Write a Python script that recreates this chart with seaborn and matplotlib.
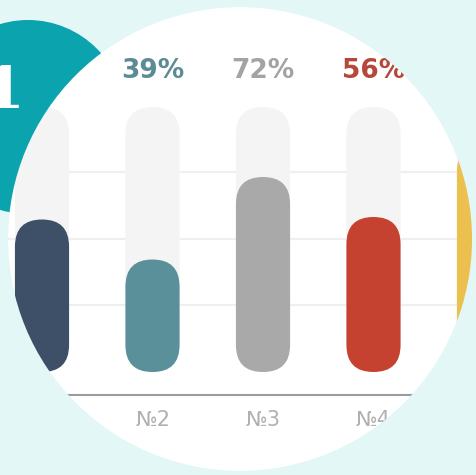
import pandas as pd
import matplotlib
matplotlib.use('Agg')
import matplotlib.pyplot as plt
from matplotlib.patches import Circle, FancyBboxPatch, PathPatch
from matplotlib.path import Path
import seaborn as sns

# chart data
items = ['№1', '№2', '№3', '№4', '№5']
values = [55, 39, 72, 56, 85]
track = [100, 100, 100, 100, 100]
bar_colors = ['#3e5068', '#5a9099', '#a9a9a9', '#c4422f', '#ecc04e']
label_colors = ['#3e5068', '#5b8b95', '#a3a3a3', '#b5483a', '#d4a83a']

df = pd.DataFrame({'item': items, 'value': values, 'track': track})

W, H = 477, 475
bg_color = '#e3f7f7'
fig = plt.figure(figsize=(W / 100, H / 100), dpi=100)
fig.patch.set_facecolor(bg_color)

# white disc underneath the chart (pixel coords)
bg = fig.add_axes([0, 0, 1, 1])
bg.set_xlim(0, W)
bg.set_ylim(H, 0)
bg.axis('off')
bg.add_patch(Circle((240, 239), 232, fc='white', ec='none'))

# chart axes: 1 category = 110.5 px, 1 unit = 2.5 px
px_x, px_y = 110.5, 2.5
ax = fig.add_axes([0, 80 / H, 1, 395 / H])
ax.patch.set_alpha(0)

sns.barplot(data=df, x='item', y='track', color='#f4f4f4', saturation=1,
            width=0.49, ax=ax)
sns.barplot(data=df, x='item', y='value', hue='item', palette=bar_colors,
            saturation=1, legend=False, width=0.49, ax=ax)

ax.set_xlim(-42 / px_x, (W - 42) / px_x)
ax.set_ylim(-15.2, 142.8)

# turn the bars into pills
base = -6
for i, p in enumerate(list(ax.patches)):
    x, w, top = p.get_x(), p.get_width(), p.get_height()
    fc = p.get_facecolor()
    p.remove()
    pill = FancyBboxPatch((x, base), w, top - base,
                          boxstyle=f'round,pad=0,rounding_size={w / 2}',
                          mutation_aspect=px_x / px_y, fc=fc, ec='none',
                          zorder=2 if i < len(items) else 3)
    ax.add_patch(pill)

# percent labels
for i, (v, c) in enumerate(zip(values, label_colors)):
    ax.text(i, 114.5, f'{v}%', color=c, fontsize=19, fontweight='bold',
            ha='center', va='center', zorder=4)

ax.set_xlabel('')
ax.set_ylabel('')
ax.set_yticks([20.8, 47.2, 74])
ax.yaxis.grid(True, color='#efefef', linewidth=1.6)
ax.set_axisbelow(True)
ax.tick_params(axis='y', left=False, labelleft=False)
ax.tick_params(axis='x', length=0, pad=11, labelsize=15, labelcolor='#b0b0b0')
for s in ['top', 'left', 'right']:
    ax.spines[s].set_visible(False)
ax.spines['bottom'].set_color('#9c9c9c')
ax.spines['bottom'].set_linewidth(1.5)

# mask outside the disc, then the teal badge on top
top_ax = fig.add_axes([0, 0, 1, 1])
top_ax.set_xlim(0, W)
top_ax.set_ylim(H, 0)
top_ax.axis('off')
rect = Path([(-10, -10), (-10, H + 10), (W + 10, H + 10), (W + 10, -10), (-10, -10)],
            [Path.MOVETO, Path.LINETO, Path.LINETO, Path.LINETO, Path.CLOSEPOLY])
disc = Path.circle((240, 239), 232)
mask = PathPatch(Path.make_compound_path(rect, disc), fc=bg_color, ec='none')
top_ax.add_patch(mask)
badge = Circle((28, 117), 97, fc='#0aa3ae', ec='none', zorder=2)
top_ax.add_patch(badge)
badge.set_clip_path(mask)
top_ax.text(25, 108, '1', color='white', fontsize=42, fontweight='bold',
            family='DejaVu Serif', ha='right', va='baseline', zorder=3)

fig.savefig('out.png', dpi=100, facecolor=fig.get_facecolor())
